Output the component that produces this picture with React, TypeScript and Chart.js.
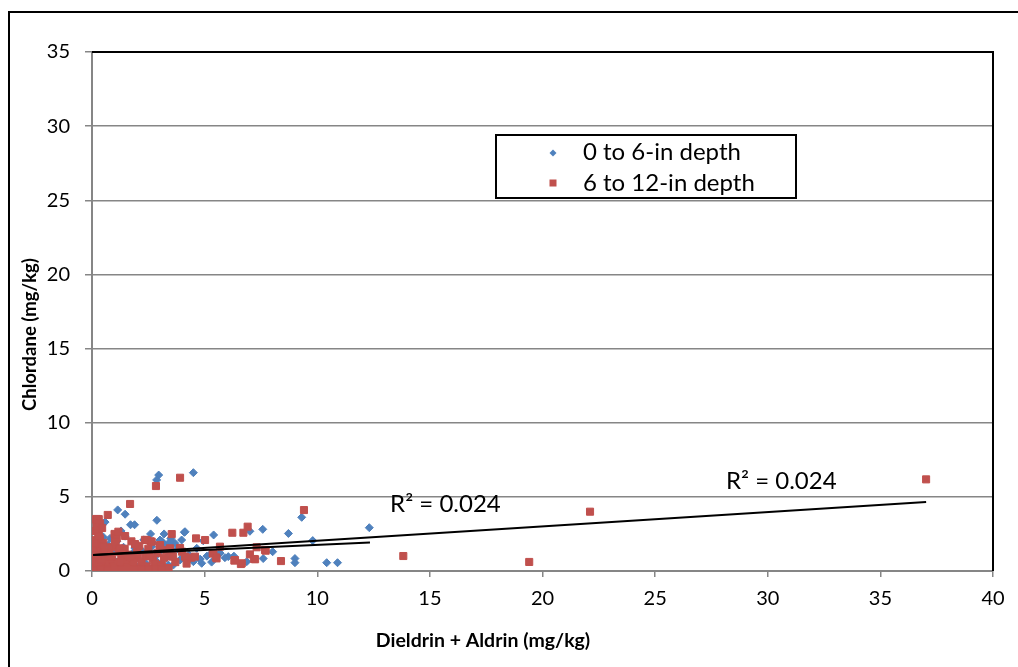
import React, { useEffect, useRef } from "react";
import { Chart, registerables } from "chart.js";

Chart.register(...registerables);

// ---- Data ----
const seriesNames = ["0 to 6-in depth", "6 to 12-in depth"];

// 0 to 6-in depth: [Dieldrin + Aldrin, Chlordane] (mg/kg)
const shallowX = [
  4.5, 2.96, 2.87, 1.14, 1.47, 2.88, 0.58, 1.71, 1.89, 1.29, 1.47, 4.1, 4.13, 5.4, 7.58, 7.01, 8.72, 9.31, 12.31, 9.8,
  8.02, 7.6, 9.01, 9.01, 10.42, 10.9, 6.87, 6.05, 5.31, 4.87, 4.5, 4.65, 5.68, 4.94, 3.98, 3.54, 3.68, 3.61, 3.91, 3.24,
  3.46, 2.65, 1.02, 0.72, 1.61, 2.8, 2.06, 3.39, 0.06, 1.17, 0.1, 0.2, 0.3, 0.15, 0.4, 0.5, 0.6, 0.8, 0.9, 1.0,
  1.3, 1.4, 1.6, 1.8, 2.0, 2.2, 2.4, 2.5, 2.7, 2.9, 3.0, 3.1, 3.3, 3.5, 3.8, 4.0, 4.3, 4.8, 5.1, 5.3,
  5.9, 6.3, 0.35, 0.25, 0.5, 0.8, 1.1, 2.3, 2.6, 3.2, 3.5, 3.02, 3.46, 0.45, 1.25, 2.15, 0.7, 1.9,
];
const shallowY = [
  6.63, 6.47, 6.14, 4.12, 3.83, 3.42, 3.3, 3.12, 3.12, 2.7, 2.35, 2.61, 2.65, 2.43, 2.81, 2.68, 2.53, 3.62, 2.92, 2.05,
  1.3, 0.84, 0.84, 0.56, 0.56, 0.56, 0.63, 0.97, 0.6, 0.52, 0.63, 1.53, 1.21, 2.04, 2.09, 1.98, 1.87, 0.4, 0.74, 1.75,
  1.89, 1.64, 1.87, 1.75, 1.08, 0.97, 0.29, 0.4, 0.29, 0.13, 0.5, 0.8, 1.1, 1.4, 0.2, 0.6, 1.0, 0.4, 1.3, 0.7,
  0.4, 1.6, 0.6, 1.2, 0.9, 1.4, 0.5, 1.1, 1.9, 0.6, 1.3, 2.0, 0.9, 1.2, 1.5, 0.9, 1.1, 0.8, 1.0, 1.2,
  0.9, 1.0, 2.0, 2.6, 2.3, 2.2, 2.0, 2.1, 2.5, 2.5, 2.2, 2.09, 1.98, 3.1, 1.2, 0.3, 0.9, 1.55,
];

// 6 to 12-in depth
const deepX = [
  0.05, 0.1, 0.15, 0.08, 0.2, 0.12, 0.25, 0.1, 0.3, 0.15, 0.2, 0.13, 0.3, 0.21, 0.36, 0.45, 0.35, 0.5, 0.4, 0.55,
  0.6, 0.5, 0.7, 0.8, 0.9, 0.75, 0.85, 0.7, 1.0, 1.1, 1.05, 1.2, 1.3, 1.15, 1.4, 1.5, 1.6, 1.45, 1.69, 1.75,
  1.8, 1.9, 2.0, 2.1, 2.2, 2.3, 2.4, 2.5, 2.6, 2.35, 2.7, 2.8, 2.84, 2.9, 3.0, 3.1, 3.2, 3.3, 3.54, 3.6,
  3.7, 3.91, 4.0, 4.2, 4.4, 4.62, 5.02, 5.36, 5.5, 5.68, 6.23, 6.32, 6.61, 6.72, 6.91, 7.01, 7.19, 7.31, 7.68, 7.71,
  8.39, 9.41, 13.82, 19.41, 22.11, 37.03, 1.17, 1.47, 0.28, 0.13, 0.5, 1.02, 2.43, 1.91, 2.65, 3.02, 3.46, 1.24, 3.91, 4.13,
  4.57, 5.39, 5.53, 6.35, 6.65, 7.24, 3.55, 0.05, 0.18, 0.32, 0.42, 0.62, 0.95, 1.25, 1.55, 1.85, 2.15, 2.45, 2.75, 3.05,
  3.35, 0.25, 0.55, 0.85, 1.35, 1.65, 2.05, 2.55, 0.1, 0.4, 0.7, 1.0, 1.3, 1.6, 1.9, 2.2, 2.5, 2.8, 3.1, 3.4,
];
const deepY = [
  0.1, 0.3, 0.6, 0.9, 1.2, 1.5, 1.8, 2.1, 2.4, 2.7, 3.0, 3.48, 3.5, 3.51, 3.21, 2.9, 2.2, 1.9, 1.4, 1.0,
  0.6, 0.3, 0.2, 0.5, 0.8, 1.2, 1.6, 3.78, 2.5, 2.2, 1.7, 1.3, 0.9, 0.5, 0.3, 0.7, 1.1, 1.5, 4.52, 2.0,
  0.4, 0.9, 1.3, 1.7, 0.6, 0.3, 1.0, 1.5, 2.0, 2.1, 0.8, 0.5, 5.73, 1.2, 1.7, 0.4, 0.9, 1.4, 2.49, 1.0,
  0.6, 6.29, 1.3, 0.5, 0.9, 2.2, 2.09, 1.19, 0.92, 1.64, 2.58, 0.7, 0.47, 2.58, 2.99, 1.12, 0.81, 1.6, 1.42, 1.37,
  0.67, 4.11, 1.01, 0.61, 4.0, 6.18, 2.65, 2.36, 2.31, 1.87, 1.64, 1.98, 2.09, 1.82, 1.98, 1.75, 1.53, 1.53, 1.55, 0.97,
  0.97, 1.19, 0.85, 0.74, 0.52, 0.79, 0.97, 0.6, 0.2, 0.45, 0.75, 0.15, 0.25, 0.6, 0.2, 0.55, 0.15, 0.3, 0.15, 0.3,
  0.2, 1.05, 1.3, 1.0, 1.15, 0.95, 1.1, 1.0, 0.05, 0.1, 0.05, 0.12, 0.08, 0.12, 0.1, 0.08, 0.1, 0.12, 0.1, 0.15,
];

// Linear trend lines (end points)
const shallowTrendX = [0.05, 12.34];
const shallowTrendY = [1.08, 1.93];
const deepTrendX = [0.05, 37.03];
const deepTrendY = [1.08, 4.65];
const r2Labels = ["R\u00B2 = 0.024", "R\u00B2 = 0.024"];

const xTicks = [0, 5, 10, 15, 20, 25, 30, 35, 40];
const yTicks = [0, 5, 10, 15, 20, 25, 30, 35];
const xTitle = "Dieldrin + Aldrin (mg/kg)";
const yTitle = "Chlordane (mg/kg)";

const BLUE = "#4F81BD";
const RED = "#C0504D";
const GRID = "#868686";
const FONT = "Lato, 'Noto Sans', sans-serif";

const zip = (xs: number[], ys: number[]) => xs.map((x, i) => ({ x, y: ys[i] }));

const overlayPlugin = {
  id: "overlay",
  beforeDraw(chart: any) {
    const { ctx, width, height } = chart;
    ctx.save();
    ctx.fillStyle = "#ffffff";
    ctx.fillRect(0, 0, width, height);
    ctx.strokeStyle = "#000";
    ctx.lineWidth = 2;
    ctx.beginPath();
    ctx.moveTo(9, height + 10);
    ctx.lineTo(9, 12);
    ctx.lineTo(width + 10, 12);
    ctx.stroke();
    ctx.restore();
  },
  beforeDatasetsDraw(chart: any) {
    const { ctx, chartArea: a } = chart;
    ctx.save();
    ctx.strokeStyle = "#000";
    ctx.lineWidth = 2;
    ctx.beginPath();
    ctx.moveTo(a.left, a.top);
    ctx.lineTo(a.right, a.top);
    ctx.lineTo(a.right, a.bottom);
    ctx.stroke();
    ctx.restore();
  },
  afterDraw(chart: any) {
    const { ctx, scales } = chart;
    const xs = scales.x;
    const ys = scales.y;
    ctx.save();
    // R² labels
    ctx.fillStyle = "#000";
    ctx.font = `24px ${FONT}`;
    ctx.textAlign = "center";
    ctx.textBaseline = "alphabetic";
    ctx.fillText(r2Labels[0], xs.getPixelForValue(15.69), ys.getPixelForValue(4.0));
    ctx.fillText(r2Labels[1], xs.getPixelForValue(30.6), ys.getPixelForValue(5.51));

    // axis titles
    ctx.font = `bold 19.5px ${FONT}`;
    ctx.fillText(xTitle, 483, 647);
    ctx.save();
    ctx.translate(36, 334.5);
    ctx.rotate(-Math.PI / 2);
    ctx.font = `bold 18.5px ${FONT}`;
    ctx.fillText(yTitle, 0, 0);
    ctx.restore();

    // legend
    ctx.strokeStyle = "#000";
    ctx.lineWidth = 2;
    ctx.strokeRect(496, 135, 300, 63);
    ctx.fillStyle = BLUE;
    ctx.beginPath();
    ctx.moveTo(553, 149.5);
    ctx.lineTo(556.5, 153);
    ctx.lineTo(553, 156.5);
    ctx.lineTo(549.5, 153);
    ctx.closePath();
    ctx.fill();
    ctx.fillStyle = RED;
    ctx.fillRect(549.5, 179.5, 7, 7);
    ctx.fillStyle = "#000";
    ctx.font = `24px ${FONT}`;
    ctx.textAlign = "left";
    ctx.textBaseline = "middle";
    ctx.fillText(seriesNames[0], 583, 152);
    ctx.fillText(seriesNames[1], 583, 183);
    ctx.restore();
  },
};

export default function App() {
  const ref = useRef<HTMLCanvasElement | null>(null);
  useEffect(() => {
    if (!ref.current) return;
    const chart = new Chart(ref.current, {
      type: "scatter",
      data: {
        datasets: [
          {
            label: seriesNames[0],
            data: zip(shallowX, shallowY),
            pointStyle: "rectRot",
            pointRadius: 4,
            backgroundColor: BLUE,
            borderColor: BLUE,
            borderWidth: 1,
            order: 3,
          },
          {
            label: seriesNames[1],
            data: zip(deepX, deepY),
            pointStyle: "rect",
            pointRadius: 5,
            backgroundColor: RED,
            borderColor: RED,
            borderWidth: 1,
            order: 2,
          },
          {
            label: "trend1",
            data: zip(shallowTrendX, shallowTrendY),
            showLine: true,
            pointRadius: 0,
            borderColor: "#000",
            borderWidth: 2,
            order: 1,
          },
          {
            label: "trend2",
            data: zip(deepTrendX, deepTrendY),
            showLine: true,
            pointRadius: 0,
            borderColor: "#000",
            borderWidth: 2,
            order: 0,
          },
        ],
      },
      options: {
        responsive: false,
        animation: false,
        layout: { padding: { left: 0, top: 52, right: 25, bottom: 0 } },
        plugins: { legend: { display: false }, tooltip: { enabled: false } },
        scales: {
          x: {
            type: "linear",
            min: 0,
            max: 40,
            afterFit: (s: any) => {
              s.height = 96;
            },
            afterBuildTicks: (s: any) => {
              s.ticks = xTicks.map((v) => ({ value: v }));
            },
            ticks: { color: "#000", font: { family: FONT, size: 20 }, padding: 10, maxRotation: 0 },
            grid: { drawOnChartArea: false, drawTicks: true, tickLength: 6, color: GRID, lineWidth: 1.5 },
            border: { color: GRID, width: 2 },
          },
          y: {
            type: "linear",
            min: 0,
            max: 35,
            afterFit: (s: any) => {
              s.width = 92;
            },
            afterBuildTicks: (s: any) => {
              s.ticks = yTicks.map((v) => ({ value: v }));
            },
            ticks: { color: "#000", font: { family: FONT, size: 20 }, padding: 15 },
            grid: { drawTicks: true, tickLength: 7, color: GRID, lineWidth: 1.5 },
            border: { color: GRID, width: 2 },
          },
        },
      },
      plugins: [overlayPlugin],
    });
    return () => chart.destroy();
  }, []);
  return (
    <div style={{ position: "fixed", left: 0, top: 0, width: 1018, height: 667, background: "#fff" }}>
      <canvas ref={ref} width={1018} height={667} style={{ display: "block" }} />
    </div>
  );
}
